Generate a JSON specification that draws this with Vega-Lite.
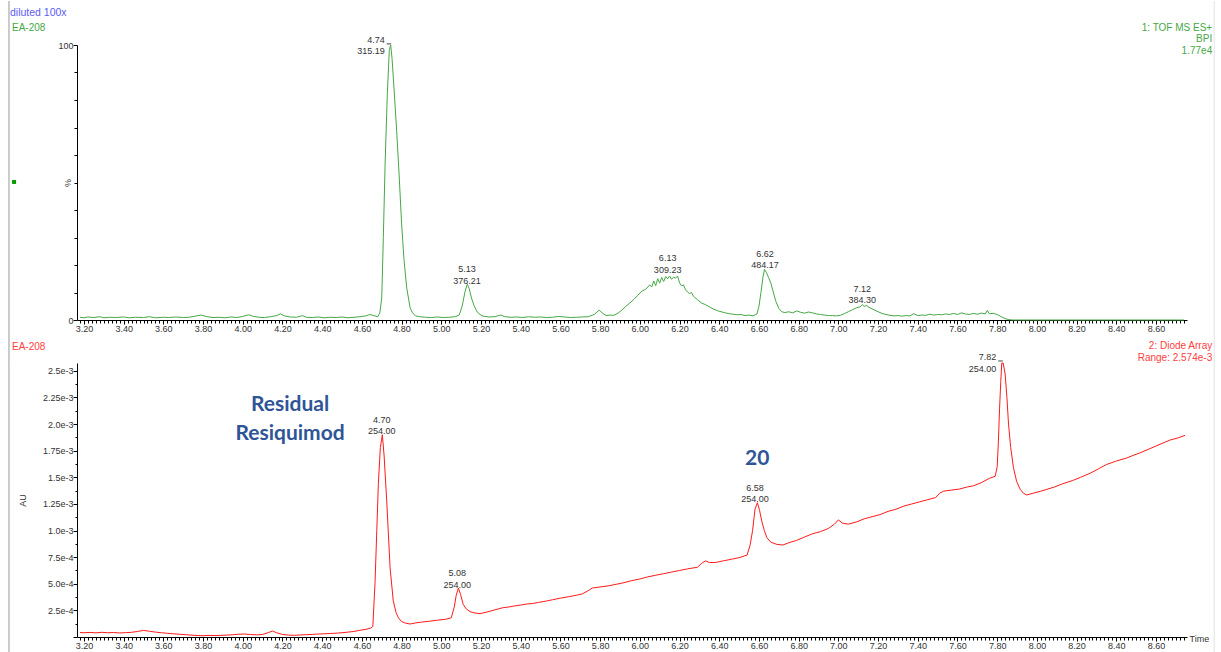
{
  "$schema": "https://vega.github.io/schema/vega-lite/v6.json",
  "padding": {"left": 8, "top": 0, "right": 0, "bottom": 0},
  "background": "white",
  "bounds": "flush",
  "spacing": 43,
  "config": {
    "view": {"stroke": null},
    "axis": {"domainColor": "#000", "domainWidth": 1, "tickColor": "#000", "labelColor": "#333", "labelFont": "Liberation Sans", "labelFontSize": 9, "grid": false, "titleFont": "Liberation Sans", "titleFontSize": 9, "titleFontWeight": "normal", "titleColor": "#333", "labelOverlap": false, "labelFlush": false, "labelPadding": 0}
  },
  "datasets": {
    "ms": [
      {"t":3.18,"v":1.0},{"t":3.20,"v":0.8},{"t":3.22,"v":1.1},{"t":3.25,"v":0.9},{"t":3.28,"v":1.2},{"t":3.30,"v":0.8},{"t":3.33,"v":1.0},{"t":3.36,"v":0.9},{"t":3.40,"v":1.1},{"t":3.43,"v":0.8},{"t":3.46,"v":1.0},{"t":3.50,"v":0.9},{"t":3.53,"v":1.2},{"t":3.56,"v":0.8},{"t":3.60,"v":1.0},{"t":3.63,"v":0.9},{"t":3.66,"v":1.1},{"t":3.70,"v":0.9},{"t":3.73,"v":1.0},{"t":3.76,"v":1.4},{"t":3.79,"v":1.8},{"t":3.82,"v":1.2},{"t":3.85,"v":0.9},{"t":3.88,"v":1.0},{"t":3.91,"v":0.8},{"t":3.94,"v":1.1},{"t":3.97,"v":0.9},{"t":4.00,"v":1.3},{"t":4.03,"v":1.9},{"t":4.05,"v":1.4},{"t":4.08,"v":1.0},{"t":4.11,"v":0.9},{"t":4.14,"v":1.2},{"t":4.17,"v":1.6},{"t":4.19,"v":2.2},{"t":4.21,"v":1.5},{"t":4.24,"v":1.1},{"t":4.27,"v":1.0},{"t":4.30,"v":1.6},{"t":4.32,"v":1.0},{"t":4.35,"v":0.9},{"t":4.38,"v":1.1},{"t":4.41,"v":0.8},{"t":4.44,"v":1.0},{"t":4.47,"v":0.9},{"t":4.50,"v":1.1},{"t":4.53,"v":0.8},{"t":4.56,"v":1.0},{"t":4.59,"v":1.2},{"t":4.62,"v":1.5},{"t":4.64,"v":2.0},{"t":4.66,"v":1.6},{"t":4.68,"v":1.2},{"t":4.69,"v":2.5},{"t":4.70,"v":8},{"t":4.708,"v":30},{"t":4.717,"v":57},{"t":4.728,"v":82},{"t":4.738,"v":98},{"t":4.745,"v":100},{"t":4.752,"v":95},{"t":4.762,"v":84},{"t":4.775,"v":69},{"t":4.788,"v":52},{"t":4.80,"v":35},{"t":4.812,"v":22},{"t":4.826,"v":11.6},{"t":4.843,"v":4.4},{"t":4.855,"v":2.6},{"t":4.87,"v":1.5},{"t":4.89,"v":1.2},{"t":4.92,"v":1.0},{"t":4.95,"v":0.9},{"t":4.98,"v":1.1},{"t":5.01,"v":0.9},{"t":5.04,"v":1.0},{"t":5.07,"v":1.2},{"t":5.09,"v":1.8},{"t":5.105,"v":5},{"t":5.12,"v":10.5},{"t":5.131,"v":13},{"t":5.14,"v":11.5},{"t":5.152,"v":8},{"t":5.165,"v":5.2},{"t":5.18,"v":3.0},{"t":5.195,"v":2.0},{"t":5.21,"v":1.4},{"t":5.24,"v":1.1},{"t":5.27,"v":1.2},{"t":5.30,"v":1.8},{"t":5.32,"v":1.2},{"t":5.35,"v":1.0},{"t":5.38,"v":1.1},{"t":5.41,"v":0.9},{"t":5.44,"v":1.2},{"t":5.47,"v":1.0},{"t":5.50,"v":1.1},{"t":5.53,"v":0.9},{"t":5.56,"v":1.0},{"t":5.59,"v":1.3},{"t":5.62,"v":1.1},{"t":5.65,"v":0.9},{"t":5.68,"v":1.0},{"t":5.71,"v":1.1},{"t":5.74,"v":1.2},{"t":5.77,"v":2.0},{"t":5.795,"v":3.6},{"t":5.81,"v":2.6},{"t":5.83,"v":1.6},{"t":5.85,"v":1.8},{"t":5.87,"v":1.7},{"t":5.89,"v":2.5},{"t":5.91,"v":3.6},{"t":5.93,"v":5.0},{"t":5.95,"v":6.2},{"t":5.97,"v":7.5},{"t":5.99,"v":9.0},{"t":6.01,"v":10.5},{"t":6.03,"v":11.2},{"t":6.05,"v":12.8},{"t":6.06,"v":12.0},{"t":6.07,"v":14.2},{"t":6.08,"v":12.5},{"t":6.09,"v":15.0},{"t":6.10,"v":13.4},{"t":6.11,"v":15.5},{"t":6.12,"v":14.0},{"t":6.13,"v":15.8},{"t":6.14,"v":15.0},{"t":6.15,"v":16.0},{"t":6.16,"v":14.8},{"t":6.17,"v":15.6},{"t":6.18,"v":15.2},{"t":6.19,"v":16.0},{"t":6.20,"v":13.5},{"t":6.21,"v":12.4},{"t":6.22,"v":12.8},{"t":6.23,"v":11.0},{"t":6.24,"v":10.2},{"t":6.25,"v":9.6},{"t":6.26,"v":10.0},{"t":6.27,"v":8.6},{"t":6.29,"v":7.4},{"t":6.31,"v":6.2},{"t":6.33,"v":5.6},{"t":6.35,"v":4.8},{"t":6.37,"v":4.0},{"t":6.39,"v":3.4},{"t":6.41,"v":3.0},{"t":6.43,"v":2.6},{"t":6.45,"v":2.3},{"t":6.47,"v":2.1},{"t":6.49,"v":1.9},{"t":6.51,"v":2.0},{"t":6.53,"v":1.6},{"t":6.55,"v":1.8},{"t":6.57,"v":1.5},{"t":6.59,"v":2.2},{"t":6.60,"v":5},{"t":6.61,"v":10},{"t":6.62,"v":15.5},{"t":6.628,"v":18.4},{"t":6.638,"v":17.2},{"t":6.648,"v":15.5},{"t":6.66,"v":13.4},{"t":6.672,"v":10.2},{"t":6.685,"v":6.8},{"t":6.70,"v":4.2},{"t":6.715,"v":3.0},{"t":6.73,"v":2.7},{"t":6.75,"v":3.0},{"t":6.77,"v":2.6},{"t":6.79,"v":3.3},{"t":6.81,"v":2.8},{"t":6.83,"v":2.5},{"t":6.85,"v":2.9},{"t":6.87,"v":2.6},{"t":6.89,"v":2.2},{"t":6.91,"v":2.0},{"t":6.93,"v":1.8},{"t":6.95,"v":1.6},{"t":6.97,"v":1.6},{"t":6.99,"v":1.5},{"t":7.01,"v":1.7},{"t":7.03,"v":2.3},{"t":7.05,"v":3.0},{"t":7.07,"v":3.7},{"t":7.09,"v":4.4},{"t":7.11,"v":4.8},{"t":7.12,"v":5.6},{"t":7.13,"v":4.9},{"t":7.14,"v":5.3},{"t":7.16,"v":4.4},{"t":7.18,"v":3.7},{"t":7.20,"v":3.0},{"t":7.22,"v":2.4},{"t":7.24,"v":2.0},{"t":7.26,"v":1.7},{"t":7.28,"v":1.5},{"t":7.30,"v":1.6},{"t":7.32,"v":1.4},{"t":7.34,"v":1.6},{"t":7.36,"v":1.5},{"t":7.38,"v":2.3},{"t":7.40,"v":1.6},{"t":7.42,"v":1.8},{"t":7.44,"v":1.7},{"t":7.46,"v":2.1},{"t":7.48,"v":1.8},{"t":7.50,"v":2.0},{"t":7.52,"v":1.9},{"t":7.54,"v":2.2},{"t":7.56,"v":2.0},{"t":7.58,"v":2.4},{"t":7.60,"v":2.0},{"t":7.62,"v":2.6},{"t":7.64,"v":2.2},{"t":7.66,"v":2.0},{"t":7.68,"v":2.4},{"t":7.70,"v":2.1},{"t":7.72,"v":2.5},{"t":7.74,"v":2.2},{"t":7.75,"v":3.5},{"t":7.76,"v":2.3},{"t":7.78,"v":2.4},{"t":7.80,"v":2.0},{"t":7.82,"v":1.2},{"t":7.84,"v":0.5},{"t":7.86,"v":0.1},{"t":7.88,"v":0},{"t":8.74,"v":0}
    ],
    "uv": [
      {"t":3.18,"v":0.000042},{"t":3.20,"v":0.000040},{"t":3.23,"v":0.000043},{"t":3.26,"v":0.000039},{"t":3.29,"v":0.000044},{"t":3.32,"v":0.000040},{"t":3.35,"v":0.000042},{"t":3.38,"v":0.000038},{"t":3.41,"v":0.000041},{"t":3.44,"v":0.000044},{"t":3.47,"v":0.000052},{"t":3.50,"v":0.000062},{"t":3.53,"v":0.000054},{"t":3.56,"v":0.000046},{"t":3.59,"v":0.000040},{"t":3.62,"v":0.000035},{"t":3.65,"v":0.000030},{"t":3.68,"v":0.000026},{"t":3.71,"v":0.000022},{"t":3.74,"v":0.000018},{"t":3.77,"v":0.000014},{"t":3.80,"v":0.000012},{"t":3.83,"v":0.000015},{"t":3.86,"v":0.000013},{"t":3.89,"v":0.000016},{"t":3.92,"v":0.000018},{"t":3.95,"v":0.000021},{"t":3.98,"v":0.000026},{"t":4.01,"v":0.000028},{"t":4.04,"v":0.000023},{"t":4.07,"v":0.000020},{"t":4.10,"v":0.000024},{"t":4.13,"v":0.000042},{"t":4.15,"v":0.000056},{"t":4.17,"v":0.000040},{"t":4.20,"v":0.000024},{"t":4.23,"v":0.000018},{"t":4.26,"v":0.000016},{"t":4.29,"v":0.000019},{"t":4.32,"v":0.000022},{"t":4.35,"v":0.000024},{"t":4.38,"v":0.000028},{"t":4.41,"v":0.000030},{"t":4.44,"v":0.000033},{"t":4.47,"v":0.000036},{"t":4.50,"v":0.000040},{"t":4.53,"v":0.000046},{"t":4.56,"v":0.000052},{"t":4.59,"v":0.000063},{"t":4.62,"v":0.000072},{"t":4.645,"v":0.000084},{"t":4.655,"v":0.000098},{"t":4.666,"v":0.00050},{"t":4.675,"v":0.00100},{"t":4.683,"v":0.00144},{"t":4.693,"v":0.00178},{"t":4.703,"v":0.00190},{"t":4.712,"v":0.00170},{"t":4.725,"v":0.00128},{"t":4.742,"v":0.00065},{"t":4.758,"v":0.00034},{"t":4.772,"v":0.00023},{"t":4.784,"v":0.00018},{"t":4.80,"v":0.000145},{"t":4.82,"v":0.000130},{"t":4.843,"v":0.000122},{"t":4.87,"v":0.000132},{"t":4.90,"v":0.000140},{"t":4.94,"v":0.000148},{"t":4.98,"v":0.000158},{"t":5.02,"v":0.000166},{"t":5.05,"v":0.000180},{"t":5.065,"v":0.00028},{"t":5.075,"v":0.00039},{"t":5.086,"v":0.00046},{"t":5.097,"v":0.00040},{"t":5.11,"v":0.000307},{"t":5.125,"v":0.000265},{"t":5.145,"v":0.000238},{"t":5.17,"v":0.000225},{"t":5.195,"v":0.00022},{"t":5.22,"v":0.00023},{"t":5.25,"v":0.000245},{"t":5.28,"v":0.00026},{"t":5.31,"v":0.000275},{"t":5.34,"v":0.000282},{"t":5.37,"v":0.000292},{"t":5.40,"v":0.00030},{"t":5.43,"v":0.00031},{"t":5.46,"v":0.000315},{"t":5.49,"v":0.000325},{"t":5.53,"v":0.000338},{"t":5.56,"v":0.00035},{"t":5.60,"v":0.000365},{"t":5.64,"v":0.000378},{"t":5.68,"v":0.000392},{"t":5.71,"v":0.000405},{"t":5.74,"v":0.000435},{"t":5.76,"v":0.00046},{"t":5.80,"v":0.00047},{"t":5.84,"v":0.00048},{"t":5.88,"v":0.000495},{"t":5.92,"v":0.00051},{"t":5.96,"v":0.00053},{"t":6.00,"v":0.000545},{"t":6.04,"v":0.000565},{"t":6.08,"v":0.00058},{"t":6.12,"v":0.000595},{"t":6.16,"v":0.00061},{"t":6.20,"v":0.000625},{"t":6.24,"v":0.00064},{"t":6.29,"v":0.000655},{"t":6.31,"v":0.00069},{"t":6.33,"v":0.000715},{"t":6.35,"v":0.00070},{"t":6.38,"v":0.00070},{"t":6.42,"v":0.000715},{"t":6.46,"v":0.00073},{"t":6.50,"v":0.000745},{"t":6.54,"v":0.00077},{"t":6.555,"v":0.00086},{"t":6.568,"v":0.00100},{"t":6.58,"v":0.00120},{"t":6.592,"v":0.001262},{"t":6.603,"v":0.00119},{"t":6.614,"v":0.00109},{"t":6.627,"v":0.00100},{"t":6.64,"v":0.000933},{"t":6.66,"v":0.00089},{"t":6.69,"v":0.00087},{"t":6.72,"v":0.000864},{"t":6.75,"v":0.000885},{"t":6.79,"v":0.000908},{"t":6.83,"v":0.00094},{"t":6.87,"v":0.00097},{"t":6.91,"v":0.00099},{"t":6.95,"v":0.00102},{"t":6.98,"v":0.00106},{"t":7.00,"v":0.00110},{"t":7.02,"v":0.00107},{"t":7.05,"v":0.00106},{"t":7.09,"v":0.00108},{"t":7.13,"v":0.00111},{"t":7.17,"v":0.00113},{"t":7.21,"v":0.00115},{"t":7.25,"v":0.00118},{"t":7.29,"v":0.00120},{"t":7.33,"v":0.00123},{"t":7.37,"v":0.00125},{"t":7.41,"v":0.00127},{"t":7.45,"v":0.00129},{"t":7.49,"v":0.00131},{"t":7.51,"v":0.00135},{"t":7.53,"v":0.00137},{"t":7.57,"v":0.00138},{"t":7.61,"v":0.00139},{"t":7.65,"v":0.00141},{"t":7.68,"v":0.00142},{"t":7.72,"v":0.00145},{"t":7.76,"v":0.00149},{"t":7.79,"v":0.00151},{"t":7.80,"v":0.00160},{"t":7.806,"v":0.00184},{"t":7.812,"v":0.00215},{"t":7.818,"v":0.00240},{"t":7.823,"v":0.002574},{"t":7.83,"v":0.002574},{"t":7.84,"v":0.00247},{"t":7.849,"v":0.00225},{"t":7.857,"v":0.00200},{"t":7.868,"v":0.00178},{"t":7.882,"v":0.00159},{"t":7.898,"v":0.00146},{"t":7.916,"v":0.001387},{"t":7.932,"v":0.00135},{"t":7.949,"v":0.001334},{"t":7.98,"v":0.00135},{"t":8.02,"v":0.00137},{"t":8.05,"v":0.001387},{"t":8.09,"v":0.00141},{"t":8.13,"v":0.00144},{"t":8.18,"v":0.00147},{"t":8.22,"v":0.00150},{"t":8.27,"v":0.00154},{"t":8.31,"v":0.00158},{"t":8.35,"v":0.00162},{"t":8.40,"v":0.001653},{"t":8.45,"v":0.00168},{"t":8.49,"v":0.00171},{"t":8.52,"v":0.00173},{"t":8.57,"v":0.00177},{"t":8.62,"v":0.00181},{"t":8.67,"v":0.00185},{"t":8.71,"v":0.00187},{"t":8.747,"v":0.001895}
    ],
    "msPeaks": [
      {"t":5.13,"v":13,"label":"5.13\n376.21"},
      {"t":6.14,"v":17,"label":"6.13\n309.23"},
      {"t":6.63,"v":18.6,"label":"6.62\n484.17"},
      {"t":7.12,"v":6,"label":"7.12\n384.30"}
    ],
    "msTop": [{"t":4.74,"v":100,"label":"4.74\n315.19"}],
    "msTopTick": [{"t":4.725,"t2":4.748,"v":100.4}],
    "msInfo": [{"t":8.883,"v":106.2,"label":"1: TOF MS ES+\nBPI\n1.77e4"}],
    "msHead": [{"t":2.8275,"v":111.6,"label":"diluted 100x"}],
    "msName": [{"t":2.8375,"v":106.2,"label":"EA-208"}],
    "msMarker": [{"t":2.848,"v":50.2}],
    "msBorder": [{"t":2.8224,"v":116,"v2":-15.7,"c":"left"},{"t":8.893,"v":116,"v2":-15.7,"c":"right"}],
    "uvPeaks": [
      {"t":4.70,"v":0.0019,"label":"4.70\n254.00"},
      {"t":5.08,"v":0.00046,"label":"5.08\n254.00"},
      {"t":6.58,"v":0.001262,"label":"6.58\n254.00"}
    ],
    "uvTop": [{"t":7.82,"v":0.002574,"label":"7.82\n254.00"}],
    "uvTopTick": [{"t":7.805,"t2":7.828,"v":0.002593}],
    "uvInfo": [{"t":8.883,"v":0.002734,"label":"2: Diode Array\nRange: 2.574e-3"}],
    "uvName": [{"t":2.8375,"v":0.002724,"label":"EA-208"}],
    "uvBorder": [{"t":2.8224,"v":0.002574,"v2":-0.00016,"c":"left"},{"t":8.893,"v":0.002574,"v2":-0.00016,"c":"right"}],
    "notes": [
      {"t":4.238,"v":0.002179,"label":"Residual\nResiquimod"},
      {"t":6.591,"v":0.001672,"label":"20"}
    ]
  },
  "vconcat": [
    {
      "width": 1110,
      "height": 275,
      "encoding": {
        "x": {"field": "t", "type": "quantitative", "scale": {"domain": [3.165, 8.756], "nice": false, "zero": false},
          "axis": {"title": null, "tickCount": 280, "labelExpr": "abs(datum.value*5-round(datum.value*5))<1e-6 ? format(datum.value,'.2f') : ''", "tickSize": {"condition": {"test": "abs(datum.value*5-round(datum.value*5))<1e-6", "value": 4}, "value": 3}}},
        "y": {"field": "v", "type": "quantitative", "scale": {"domain": [0, 100], "nice": false},
          "axis": {"values": [0,10,20,30,40,50,60,70,80,90,100], "labelExpr": "datum.value==0||datum.value==100 ? datum.label : ''", "tickSize": {"condition": {"test": "datum.value==0||datum.value==100", "value": 4}, "value": 3}, "title": "%", "titleX": -10, "titleY": 137.5, "titleAlign": "center", "titleBaseline": "middle"}}
      },
      "layer": [
        {"data": {"name": "msBorder"}, "mark": {"type": "rule", "strokeWidth": 1}, "encoding": {"y2": {"field": "v2"}, "color": {"field": "c", "type": "nominal", "scale": {"domain": ["left", "right"], "range": ["#9a9a9a", "#e2e2e2"]}, "legend": null}}},
        {"data": {"name": "ms"}, "mark": {"type": "line", "color": "#45a845", "strokeWidth": 1}},
        {"data": {"name": "msTopTick"}, "mark": {"type": "rule", "color": "#444", "strokeWidth": 1}, "encoding": {"x2": {"field": "t2"}}},
        {"data": {"name": "msPeaks"}, "mark": {"type": "text", "lineBreak": "\n", "baseline": "middle", "dy": -15, "fontSize": 9, "font": "Liberation Sans", "color": "#333", "lineHeight": 11.5}, "encoding": {"text": {"field": "label"}}},
        {"data": {"name": "msTop"}, "mark": {"type": "text", "lineBreak": "\n", "align": "right", "baseline": "middle", "dx": -5, "dy": -5, "fontSize": 9, "font": "Liberation Sans", "color": "#333", "lineHeight": 11}, "encoding": {"text": {"field": "label"}}},
        {"data": {"name": "msInfo"}, "mark": {"type": "text", "lineBreak": "\n", "align": "right", "baseline": "middle", "fontSize": 10, "font": "Liberation Sans", "color": "#45a845", "lineHeight": 11.5}, "encoding": {"text": {"field": "label"}}},
        {"data": {"name": "msHead"}, "mark": {"type": "text", "align": "left", "baseline": "middle", "fontSize": 10.5, "font": "Liberation Sans", "color": "#5b5bf5"}, "encoding": {"text": {"field": "label"}}},
        {"data": {"name": "msName"}, "mark": {"type": "text", "align": "left", "baseline": "middle", "fontSize": 10, "font": "Liberation Sans", "color": "#45a845"}, "encoding": {"text": {"field": "label"}}},
        {"data": {"name": "msMarker"}, "mark": {"type": "square", "filled": true, "size": 16, "color": "#00a000", "opacity": 1}}
      ]
    },
    {
      "width": 1110,
      "height": 274,
      "encoding": {
        "x": {"field": "t", "type": "quantitative", "scale": {"domain": [3.165, 8.756], "nice": false, "zero": false},
          "axis": {"title": "Time", "titleX": 1112, "titleY": 1, "titleAlign": "left", "titleBaseline": "middle", "titleAngle": 0, "tickCount": 280, "labelExpr": "abs(datum.value*5-round(datum.value*5))<1e-6 ? format(datum.value,'.2f') : ''", "tickSize": {"condition": {"test": "abs(datum.value*5-round(datum.value*5))<1e-6", "value": 4}, "value": 3}}},
        "y": {"field": "v", "type": "quantitative", "scale": {"domain": [0, 0.002574], "nice": false},
          "axis": {"values": [0,0.000125,0.00025,0.000375,0.0005,0.000625,0.00075,0.000875,0.001,0.001125,0.00125,0.001375,0.0015,0.001625,0.00175,0.001875,0.002,0.002125,0.00225,0.002375,0.0025],
            "labelExpr": "['','','2.5e-4','','5.0e-4','','7.5e-4','','1.0e-3','','1.25e-3','','1.5e-3','','1.75e-3','','2.0e-3','','2.25e-3','','2.5e-3'][round(datum.value/0.000125)]",
            "tickSize": {"condition": {"test": "round(datum.value/0.000125)%2==0", "value": 4}, "value": 2},
            "title": "AU", "titleX": -55, "titleY": 137, "titleAlign": "center", "titleBaseline": "middle"}}
      },
      "layer": [
        {"data": {"name": "uvBorder"}, "mark": {"type": "rule", "strokeWidth": 1}, "encoding": {"y2": {"field": "v2"}, "color": {"field": "c", "type": "nominal", "scale": {"domain": ["left", "right"], "range": ["#9a9a9a", "#e2e2e2"]}, "legend": null}}},
        {"data": {"name": "uv"}, "mark": {"type": "line", "color": "#ff1a1a", "strokeWidth": 1}},
        {"data": {"name": "uvTopTick"}, "mark": {"type": "rule", "color": "#444", "strokeWidth": 1}, "encoding": {"x2": {"field": "t2"}}},
        {"data": {"name": "uvPeaks"}, "mark": {"type": "text", "lineBreak": "\n", "baseline": "middle", "dy": -15, "fontSize": 9, "font": "Liberation Sans", "color": "#333", "lineHeight": 11.5}, "encoding": {"text": {"field": "label"}}},
        {"data": {"name": "uvTop"}, "mark": {"type": "text", "lineBreak": "\n", "align": "right", "baseline": "middle", "dx": -5, "dy": -6, "fontSize": 9, "font": "Liberation Sans", "color": "#333", "lineHeight": 11.5}, "encoding": {"text": {"field": "label"}}},
        {"data": {"name": "uvInfo"}, "mark": {"type": "text", "lineBreak": "\n", "align": "right", "baseline": "middle", "fontSize": 10, "font": "Liberation Sans", "color": "#ff4040", "lineHeight": 12}, "encoding": {"text": {"field": "label"}}},
        {"data": {"name": "uvName"}, "mark": {"type": "text", "align": "left", "baseline": "middle", "fontSize": 10, "font": "Liberation Sans", "color": "#ff4040"}, "encoding": {"text": {"field": "label"}}},
        {"data": {"name": "notes"}, "mark": {"type": "text", "lineBreak": "\n", "align": "center", "baseline": "middle", "fontSize": 21, "font": "Lato", "fontWeight": "bold", "color": "#2f5597", "lineHeight": 29}, "encoding": {"text": {"field": "label"}}}
      ]
    }
  ]
}
